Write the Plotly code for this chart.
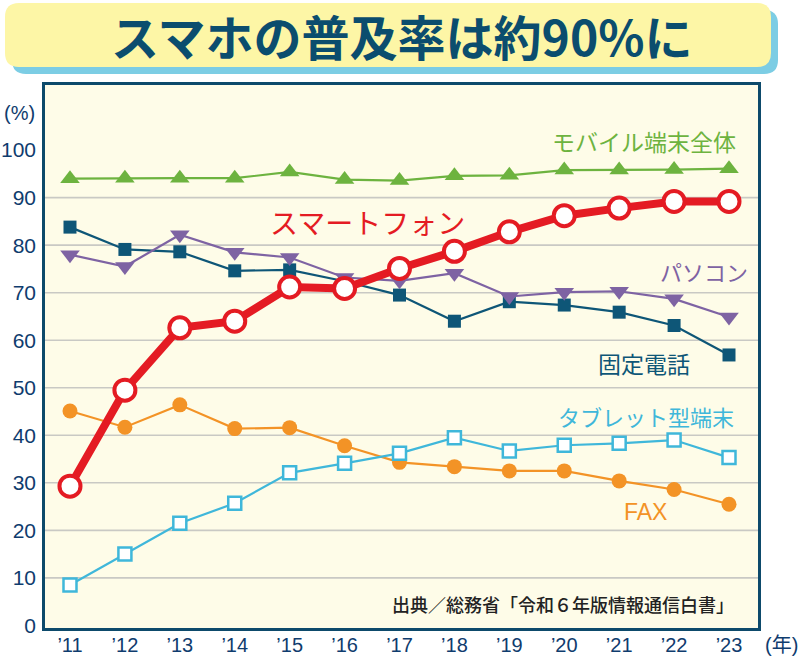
import plotly.graph_objects as go

years = ["’11", "’12", "’13", "’14", "’15", "’16", "’17", "’18", "’19", "’20", "’21", "’22", "’23"]
smartphone = [29.3, 49.5, 62.6, 64.0, 71.2, 70.9, 75.1, 78.7, 82.8, 86.2, 87.8, 89.2, 89.2]
mobile_all = [94.0, 94.1, 94.1, 94.1, 95.4, 93.8, 93.6, 94.6, 94.7, 95.8, 95.8, 95.9, 96.1]
pc = [78.0, 75.5, 82.2, 78.5, 77.4, 73.2, 72.5, 74.1, 69.2, 70.1, 70.3, 68.7, 64.9]
landline = [83.8, 79.1, 78.6, 74.6, 74.8, 72.4, 69.5, 64.0, 68.1, 67.4, 65.9, 63.1, 56.9]
tablet = [8.5, 15.0, 21.5, 25.7, 32.1, 34.1, 36.2, 39.5, 36.7, 37.9, 38.3, 39.0, 35.3]
fax = [45.1, 41.7, 46.4, 41.4, 41.6, 37.8, 34.3, 33.4, 32.5, 32.5, 30.4, 28.6, 25.5]
y_ticks = [0, 10, 20, 30, 40, 50, 60, 70, 80, 90, 100]
grid_vals = [10, 20, 30, 40, 50, 60, 70, 80, 90]

C_GREEN = "#6db33f"
C_RED = "#e41b23"
C_PURPLE = "#7e63a3"
C_TEAL = "#0e5677"
C_TAB = "#3fb7da"
C_FAX = "#f39326"
C_NAVY = "#0f3c6e"
JP = "Noto Sans CJK JP"
NUM = "Liberation Sans"

W, H = 800, 657
L, R, T, B = 45, 758, 85, 628
PW, PH = R - L, B - T


def px(x):
    return (x - L) / PW


def py(y):
    return (B - y) / PH


def rrect(x0, y0, x1, y1, r):
    def p(x, y):
        return f"{px(x):.5f},{py(y):.5f}"
    return (f"M {p(x0 + r, y0)} L {p(x1 - r, y0)} Q {p(x1, y0)} {p(x1, y0 + r)} "
            f"L {p(x1, y1 - r)} Q {p(x1, y1)} {p(x1 - r, y1)} L {p(x0 + r, y1)} "
            f"Q {p(x0, y1)} {p(x0, y1 - r)} L {p(x0, y0 + r)} Q {p(x0, y0)} {p(x0 + r, y0)} Z")


fig = go.Figure()

fig.add_trace(go.Scatter(x=years, y=mobile_all, mode="lines+markers",
                         line=dict(color=C_GREEN, width=2.2),
                         marker=dict(symbol="triangle-up", size=17, color=C_GREEN)))
fig.add_trace(go.Scatter(x=years, y=landline, mode="lines+markers",
                         line=dict(color=C_TEAL, width=2.2),
                         marker=dict(symbol="square", size=13, color=C_TEAL)))
fig.add_trace(go.Scatter(x=years, y=pc, mode="lines+markers",
                         line=dict(color=C_PURPLE, width=2.2),
                         marker=dict(symbol="triangle-down", size=17, color=C_PURPLE)))
fig.add_trace(go.Scatter(x=years, y=fax, mode="lines+markers",
                         line=dict(color=C_FAX, width=2.2),
                         marker=dict(symbol="circle", size=15, color=C_FAX)))
fig.add_trace(go.Scatter(x=years, y=tablet, mode="lines+markers",
                         line=dict(color=C_TAB, width=2.2),
                         marker=dict(symbol="square", size=13, color="white",
                                     line=dict(color=C_TAB, width=2.5))))
fig.add_trace(go.Scatter(x=years, y=smartphone, mode="lines+markers",
                         line=dict(color=C_RED, width=8),
                         marker=dict(symbol="circle", size=21, color="white",
                                     line=dict(color=C_RED, width=4))))

shapes = []
for g in grid_vals:
    shapes.append(dict(type="line", xref="paper", yref="y", x0=0, x1=1, y0=g, y1=g,
                       line=dict(color="#c9c9c4", width=1.6), layer="below"))
shapes.append(dict(type="path", xref="paper", yref="paper", path=rrect(12, 10, 778, 74, 14),
                   fillcolor="#7ccde4", line=dict(width=0), layer="above"))
shapes.append(dict(type="path", xref="paper", yref="paper", path=rrect(5, 3, 771, 67, 14),
                   fillcolor="#fdf6a6", line=dict(width=0), layer="above"))

annotations = [
    dict(text="<b>スマホの普及率は約90%に</b>", x=px(401), y=py(35),
         font=dict(family=JP, size=48, color="#0b4d6e", weight=900)),
    dict(text="モバイル端末全体", x=px(644), y=py(141),
         font=dict(family=JP, size=23, color=C_GREEN)),
    dict(text="スマートフォン", x=px(367), y=py(222),
         font=dict(family=JP, size=28, color=C_RED)),
    dict(text="パソコン", x=px(704), y=py(271),
         font=dict(family=JP, size=22, color=C_PURPLE)),
    dict(text="固定電話", x=px(644), y=py(363),
         font=dict(family=JP, size=23, color=C_TEAL)),
    dict(text="タブレット型端末", x=px(646), y=py(416),
         font=dict(family=JP, size=22, color=C_TAB)),
    dict(text="FAX", x=px(645), y=py(512),
         font=dict(family=NUM, size=23, color=C_FAX)),
    dict(text="出典／総務省「令和６年版情報通信白書」", x=px(563), y=py(604),
         font=dict(family=JP, size=18, color="#222222", weight=500)),
    dict(text="(%)", x=px(19), y=py(113),
         font=dict(family=NUM + ", " + JP, size=20, color=C_NAVY)),
    dict(text="(年)", x=px(781), y=py(645),
         font=dict(family=NUM + ", " + JP, size=20, color=C_NAVY)),
]
for a in annotations:
    a.update(xref="paper", yref="paper", showarrow=False, xanchor="center", yanchor="middle")

fig.update_layout(
    width=W, height=H,
    margin=dict(l=L, r=W - R, t=T, b=H - B, autoexpand=False),
    paper_bgcolor="white",
    plot_bgcolor="#fefce8",
    showlegend=False,
    shapes=shapes,
    annotations=annotations,
    xaxis=dict(type="category", range=[-0.455, 12.528], showgrid=False, zeroline=False,
               showline=True, mirror=True, linecolor="#0d4a6b", linewidth=2.5,
               ticks="", tickfont=dict(family=NUM, size=20, color=C_NAVY),
               ticklabelstandoff=-3, automargin=False),
    yaxis=dict(range=[-0.55, 113.7], tickvals=y_ticks, showgrid=False, zeroline=False,
               showline=True, mirror=True, linecolor="#0d4a6b", linewidth=2.5,
               ticks="", tickfont=dict(family=NUM, size=21, color=C_NAVY),
               ticklabelstandoff=2, automargin=False),
)

fig.write_html("out.html", config={"displayModeBar": False},
               post_script="document.body.style.margin='0px';document.body.style.overflow='hidden';")
